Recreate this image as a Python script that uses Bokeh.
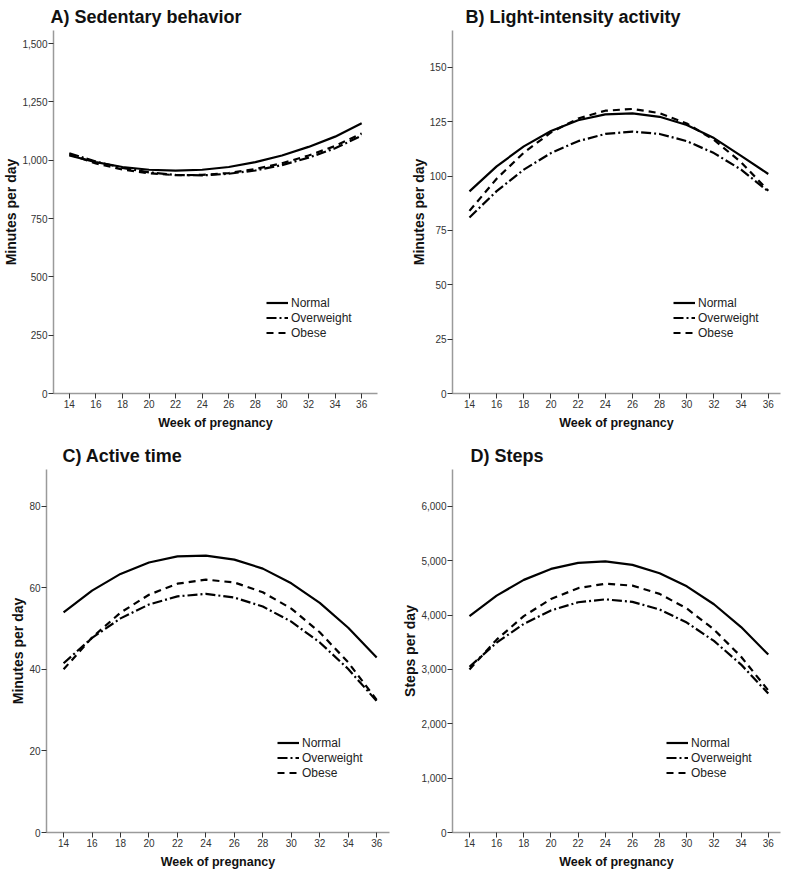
from bokeh.plotting import figure
from bokeh.layouts import column, row
from bokeh.models import Range1d, NumeralTickFormatter, FixedTicker
from bokeh.embed import file_html
from bokeh.resources import INLINE

# ---------------- data ----------------
weeks = [14, 16, 18, 20, 22, 24, 26, 28, 30, 32, 34, 36]
week_ticks = [14, 16, 18, 20, 22, 24, 26, 28, 30, 32, 34, 36]
series_names = ["Normal", "Overweight", "Obese"]

# A) Sedentary behavior (minutes per day)
sed_normal = [1020, 992, 971, 959, 955, 959, 971, 992, 1020, 1057, 1101, 1158]
sed_overweight = [1030, 994, 967, 948, 937, 935, 942, 956, 979, 1011, 1051, 1105]
sed_obese = [1025, 986, 960, 944, 936, 937, 945, 962, 987, 1020, 1061, 1115]
sed_ticks = [0, 250, 500, 750, 1000, 1250, 1500]

# B) Light-intensity activity (minutes per day)
light_normal = [93, 104.5, 113.7, 120.8, 125.7, 128.4, 128.9, 127.3, 123.5, 117.5, 109.3, 101]
light_overweight = [81, 93.1, 103, 110.6, 116.1, 119.4, 120.5, 119.4, 116.1, 110.6, 103, 93]
light_obese = [84, 98.8, 110.8, 120.1, 126.5, 130.1, 130.9, 129, 124.2, 116.7, 106.4, 93.3]
light_ticks = [0, 25, 50, 75, 100, 125, 150]

# C) Active time (minutes per day)
active_normal = [54, 59.3, 63.4, 66.2, 67.7, 67.9, 66.9, 64.7, 61.1, 56.3, 50.2, 42.9]
active_overweight = [41.5, 47.7, 52.5, 55.9, 57.9, 58.5, 57.6, 55.4, 51.7, 46.6, 40.1, 32.2]
active_obese = [40, 47.8, 53.9, 58.3, 61, 62, 61.3, 58.9, 54.9, 49.1, 41.7, 32.5]
active_ticks = [0, 20, 40, 60, 80]

# D) Steps (steps per day)
steps_normal = [3980, 4359, 4649, 4850, 4963, 4988, 4924, 4771, 4530, 4200, 3781, 3274]
steps_overweight = [3050, 3493, 3839, 4087, 4237, 4290, 4245, 4103, 3863, 3525, 3090, 2557]
steps_obese = [3000, 3549, 3982, 4297, 4496, 4578, 4543, 4391, 4122, 3737, 3235, 2615]
steps_ticks = [0, 1000, 2000, 3000, 4000, 5000, 6000]

FONT = "Liberation Sans"
DASHES = ["solid", "10 3 2 3", "7 5"]


def panel(title, ylabel, ys, yticks, ymax, xr, width, height, borders,
          legend_xy, title_offset):
    p = figure(width=width, height=height, output_backend="svg",
               toolbar_location=None, x_range=Range1d(*xr),
               y_range=Range1d(0, ymax),
               min_border_left=borders[0], min_border_right=borders[1],
               min_border_top=borders[2], min_border_bottom=borders[3])
    p.title.text = title
    p.title.text_font = FONT
    p.title.text_font_size = "18px"
    p.title.text_font_style = "bold"
    p.title.text_color = "#111111"
    p.title.standoff = 7
    p.title.offset = title_offset
    p.outline_line_color = None
    p.xgrid.visible = False
    p.ygrid.visible = False
    for yv, name, dash in zip(ys, series_names, DASHES):
        p.line(weeks, yv, line_color="black", line_width=2.2,
               line_dash=dash, legend_label=name)
    p.xaxis.ticker = FixedTicker(ticks=week_ticks)
    p.yaxis.ticker = FixedTicker(ticks=yticks)
    p.yaxis.formatter = NumeralTickFormatter(format="0,0")
    p.xaxis.axis_label = "Week of pregnancy"
    p.yaxis.axis_label = ylabel
    for ax in (p.xaxis, p.yaxis):
        ax.axis_line_color = "#9a9a9a"
        ax.axis_line_width = 1.5
        ax.major_tick_line_color = "#333333"
        ax.major_tick_out = 5
        ax.major_tick_in = 0
        ax.minor_tick_line_color = None
        ax.major_label_text_font = FONT
        ax.major_label_text_font_size = "10px"
        ax.major_label_text_color = "#333333"
        ax.major_label_standoff = 1
        ax.axis_label_text_font = FONT
        ax.axis_label_text_font_style = "bold"
        ax.axis_label_text_color = "#111111"
    p.xaxis.axis_label_text_font_size = "12.5px"
    p.xaxis.axis_label_standoff = 5
    p.yaxis.axis_label_text_font_size = "14px"
    p.yaxis.axis_label_standoff = 0
    lg = p.legend[0]
    lg.location = legend_xy
    lg.border_line_color = None
    lg.background_fill_alpha = 0
    lg.padding = 0
    lg.margin = 0
    lg.spacing = 0
    lg.label_height = 15
    lg.glyph_height = 15
    lg.glyph_width = 22
    lg.label_standoff = 3
    lg.label_text_font = FONT
    lg.label_text_font_size = "12px"
    lg.label_text_color = "#222222"
    return p


pA = panel("A) Sedentary behavior", "Minutes per day",
           [sed_normal, sed_overweight, sed_obese], sed_ticks, 1556,
           (12.81, 37.19), 395, 440, (49, 18, 30, 47), (213, 53), -3)
pB = panel("B) Light-intensity activity", "Minutes per day",
           [light_normal, light_overweight, light_obese], light_ticks, 167,
           (12.75, 36.9), 395, 440, (57, 10, 30, 47), (221, 53), 13)
pC = panel("C) Active time", "Minutes per day",
           [active_normal, active_overweight, active_obese], active_ticks, 89,
           (12.8, 36.9), 395, 431, (46, 6, 29, 39), (231, 52), 16)
pD = panel("D) Steps", "Steps per day",
           [steps_normal, steps_overweight, steps_obese], steps_ticks, 6680,
           (12.75, 36.9), 395, 431, (57, 10, 29, 39), (214, 52), 18)

layout = column(row(pA, pB), row(pC, pD))
open("out.html", "w").write(file_html(layout, INLINE))
